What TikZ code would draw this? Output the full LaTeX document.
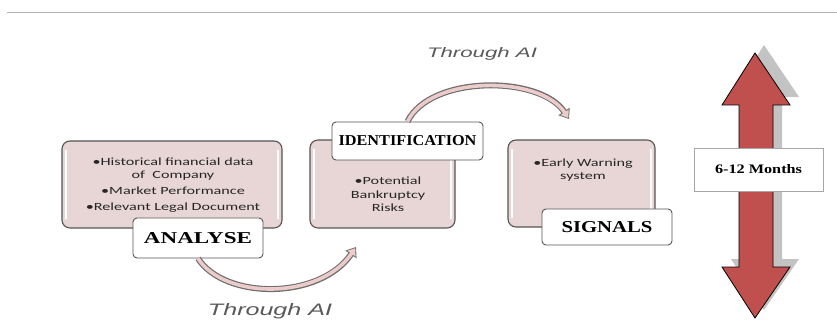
\documentclass[tikz,border=0pt]{standalone}
\usepackage{fontspec}
\setmainfont{Carlito}
\newfontfamily\bodyfont{Carlito}[FakeStretch=1.47]
\newfontfamily\labelfont{Liberation Serif}
\newfontfamily\handfont{Liberation Sans}
\usetikzlibrary{arrows.meta}
\definecolor{boxpink}{RGB}{232,213,213}
\definecolor{edgegray}{RGB}{85,85,85}
\definecolor{arrowred}{RGB}{192,80,77}
\definecolor{arrowpink}{RGB}{236,203,203}
\definecolor{shadowgray}{RGB}{195,195,195}
\begin{document}
\begin{tikzpicture}[x=1pt,y=-1pt,
  panel/.style={draw=edgegray, line width=1.1pt, fill=boxpink, rounded corners=8pt, inner sep=0pt},
  bevel/.style={draw=white, line width=1.6pt, line cap=round},
  tag/.style={draw=edgegray, line width=0.9pt, fill=white, rounded corners=4pt, inner sep=0pt},
  body/.style={font=\bodyfont\fontsize{11}{13.5}\selectfont, align=center, inner sep=0pt, text=black!85},
  hand/.style={font=\handfont\itshape, text=black!65, inner sep=0pt, anchor=base},
  curvout/.style={draw=edgegray!85, line width=6pt, -{Triangle[length=9pt,width=13pt]}},
  curvin/.style={draw=arrowpink, line width=3.6pt, shorten >=1.4pt, -{Triangle[length=6.6pt,width=9.4pt]}}
  ]
\useasboundingbox (0,0) rectangle (837,320);
% top rule
\draw[black!30, line width=1pt] (7,13) -- (837,13);

% panel 1
\node[panel, minimum width=220pt, minimum height=87pt] (p1) at (172,184.5) {};
\draw[bevel] ([shift={(4.5,10)}]p1.north west) -- ([shift={(4.5,-10)}]p1.south west);
\draw[bevel] ([shift={(-4.5,10)}]p1.north east) -- ([shift={(-4.5,-10)}]p1.south east);
\node[body] (t1) at (173,185) {\textbullet Historical financial data\\ of\ \ Company\\[2.5pt] \textbullet Market Performance\\[2.5pt] \textbullet Relevant Legal Document};
\node[tag, minimum width=130pt, minimum height=40pt] (analyse) at (198,238) {\labelfont\bfseries\resizebox{108pt}{11pt}{ANALYSE}};

% panel 2
\node[panel, minimum width=145pt, minimum height=88pt] (p2) at (382.5,184) {};
\draw[bevel] ([shift={(4.5,10)}]p2.north west) -- ([shift={(4.5,-10)}]p2.south west);
\draw[bevel] ([shift={(-4.5,10)}]p2.north east) -- ([shift={(-4.5,-10)}]p2.south east);
\node[body] (t2) at (388,194.5) {\textbullet Potential\\ Bankruptcy\\ Risks};
\node[tag, minimum width=151pt, minimum height=38pt] (ident) at (407.5,141) {\labelfont\bfseries\resizebox{138pt}{10pt}{IDENTIFICATION}};

% panel 3
\node[panel, minimum width=147pt, minimum height=87pt] (p3) at (581.5,183.5) {};
\draw[bevel] ([shift={(4.5,10)}]p3.north west) -- ([shift={(4.5,-10)}]p3.south west);
\draw[bevel] ([shift={(-4.5,10)}]p3.north east) -- ([shift={(-4.5,-10)}]p3.south east);
\node[body] (t3) at (583,170) {\textbullet Early Warning\\ system};
\node[tag, minimum width=130pt, minimum height=36pt] (signals) at (607,227) {\labelfont\bfseries\resizebox{91pt}{11pt}{SIGNALS}};

% curved arrows
\coordinate (e1) at (356,247);
\coordinate (e2) at (569,119);
\draw[curvout] (analyse.south) .. controls (225,300) and (320,300) .. (e1);
\draw[curvin] (analyse.south) .. controls (225,300) and (320,300) .. (e1);
\draw[curvout] (ident.north) .. controls (430,75) and (540,75) .. (e2);
\draw[curvin] (ident.north) .. controls (430,75) and (540,75) .. (e2);

\node[hand] (ai1) at (270,315) {\resizebox{124pt}{12pt}{Through AI}};
\node[hand] (ai2) at (482,58) {\resizebox{110pt}{10pt}{Through AI}};

% double arrow with shadow
\fill[shadowgray] (764,45) -- (799,97) -- (782,97) -- (782,259) -- (799,259) -- (764,310) -- (731,259) -- (748,259) -- (748,97) -- (731,97) -- cycle;
\draw[fill=arrowred, draw=black, line width=0.8pt] (755,53) -- (790,105) -- (773,105) -- (773,267) -- (790,267) -- (755,318) -- (722,267) -- (739,267) -- (739,105) -- (722,105) -- cycle;
\node[draw=black!35, line width=0.6pt, fill=white, minimum width=129pt, minimum height=43pt, inner sep=0pt] (months) at (758.5,169.5) {\labelfont\bfseries\resizebox{87pt}{9pt}{6-12 Months}};
\end{tikzpicture}
\end{document}
